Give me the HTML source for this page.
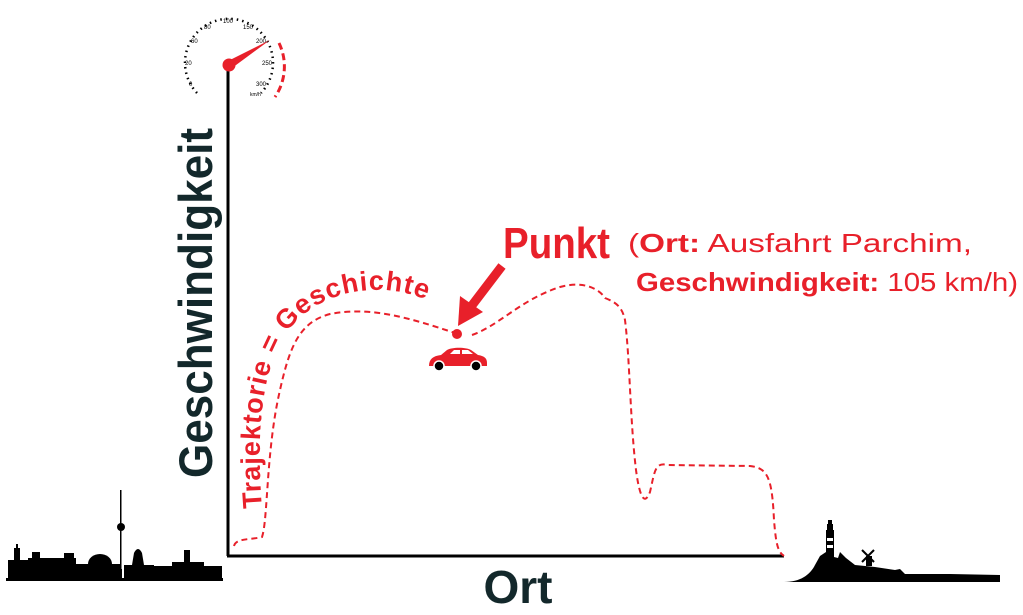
<!DOCTYPE html>
<html><head><meta charset="utf-8"><style>
html,body{margin:0;padding:0;background:#fff;}
svg{display:block;font-family:"Liberation Sans",sans-serif;}
</style></head><body>
<svg width="1023" height="615" viewBox="0 0 1023 615" xmlns="http://www.w3.org/2000/svg">
<!-- axes -->
<line x1="228" y1="65" x2="228" y2="556" stroke="#000" stroke-width="3"/>
<line x1="227" y1="556" x2="784" y2="556" stroke="#000" stroke-width="3"/>
<!-- speedometer -->
<g transform="translate(229,65)">
  <path d="M -32 28 A 44 44 0 1 1 32 28" fill="none" stroke="#000" stroke-width="2.5" stroke-dasharray="1.5 4"/>
  <path d="M 50 -22 A 54 54 0 0 1 46 32" fill="none" stroke="#e8202a" stroke-width="3" stroke-dasharray="7 4"/>
  <g font-size="6" fill="#000">
    <text x="-40" y="21">0</text>
    <text x="-44" y="0">20</text>
    <text x="-38" y="-22">60</text>
    <text x="-25" y="-36">80</text>
    <text x="-6" y="-42">100</text>
    <text x="14" y="-36">150</text>
    <text x="27" y="-22">200</text>
    <text x="33" y="0">250</text>
    <text x="27" y="21">300</text>
    <text x="21" y="31" font-size="5">km/h</text>
  </g>
  <polygon points="-3,-3 3,3 41,-25" fill="#e8202a"/>
  <circle cx="0" cy="0" r="6.5" fill="#e8202a"/>
</g>
<!-- trajectory -->
<path d="M234,546 C236,538 250,540 262,537 C268,520 266,450 280,390 C290,345 300,322 330,314 C370,306 410,318 455,333 M472,335 C500,325 520,300 560,287 C585,280 600,290 605,298 C615,302 622,306 625,320 C630,360 630,420 636,470 C640,500 645,505 650,492 C655,470 655,462 668,465 L750,466 C768,468 772,478 774,520 C776,545 778,552 784,556" fill="none" stroke="#e8202a" stroke-width="2" stroke-dasharray="6 4"/>
<path id="lbl" d="M262,508 C256,430 262,375 283,338 C305,303 345,288 385,290 C410,292 425,298 445,310" fill="none"/>
<text font-size="27" font-weight="bold" fill="#e8202a" letter-spacing="1"><textPath href="#lbl" textLength="335" lengthAdjust="spacing">Trajektorie = Geschichte</textPath></text>
<circle cx="457" cy="334" r="5" fill="#e8202a"/>
<!-- arrow -->
<line x1="502" y1="266" x2="470" y2="308" stroke="#e8202a" stroke-width="9"/>
<polygon points="458,326 460,296 483,312" fill="#e8202a"/>
<!-- car -->
<g fill="#e8202a">
  <path d="M429,366 C429,359 433,356 441,355 L447,350 C452,347 466,347 471,350 L478,355 C484,356 487,358 487,363 L487,366 Z"/>
  <circle cx="439" cy="366" r="5" fill="#000" stroke="#fff" stroke-width="1.5"/>
  <circle cx="476" cy="366" r="5" fill="#000" stroke="#fff" stroke-width="1.5"/>
  <path d="M450,354 L454,350 L460,350 L460,354 Z M462,350 L468,350 L473,354 L462,354 Z" fill="#fff"/>
</g>
<!-- Punkt text -->
<text x="503" y="258" font-size="44" font-weight="bold" fill="#e8202a" textLength="107" lengthAdjust="spacingAndGlyphs">Punkt</text>
<text x="628" y="252" font-size="26" fill="#e8202a" textLength="344" lengthAdjust="spacingAndGlyphs">(<tspan font-weight="bold">Ort:</tspan> Ausfahrt Parchim,</text>
<text x="636" y="291" font-size="26" fill="#e8202a" textLength="382" lengthAdjust="spacingAndGlyphs"><tspan font-weight="bold">Geschwindigkeit:</tspan> 105 km/h)</text>
<!-- axis labels -->
<text transform="translate(212,478) rotate(-90)" font-size="47" font-weight="bold" fill="#13282b" textLength="350" lengthAdjust="spacingAndGlyphs">Geschwindigkeit</text>
<text x="518" y="603" font-size="46" font-weight="bold" fill="#13282b" text-anchor="middle">Ort</text>
<!-- Berlin skyline -->
<g fill="#000">
  <rect x="6" y="578" width="217" height="3"/>
  <rect x="8" y="560" width="20" height="20"/><rect x="14" y="548" width="6" height="14"/><rect x="16" y="544" width="2" height="5"/>
  <rect x="28" y="558" width="48" height="22"/><rect x="32" y="552" width="8" height="8"/><rect x="64" y="553" width="10" height="7"/>
  <rect x="76" y="564" width="44" height="16"/><path d="M88,564 A12 10 0 0 1 112,564 Z"/>
  <rect x="119" y="569" width="3" height="11"/><rect x="120" y="490" width="1.5" height="80"/><circle cx="121" cy="527" r="4"/>
  <rect x="124" y="565" width="30" height="15"/><path d="M132,565 L134,553 Q138,545 142,553 L144,565 Z"/>
  <rect x="154" y="566" width="18" height="14"/>
  <rect x="172" y="562" width="32" height="18"/><rect x="184" y="550" width="6" height="13"/>
  <rect x="204" y="566" width="18" height="14"/>
</g>
<!-- coast skyline -->
<g fill="#000">
  <path d="M784,582 C800,582 810,575 815,565 L820,556 L826,552 L830,556 L838,558 L840,552 L846,558 L855,565 L875,567 L895,570 L900,569 L905,574 L950,574 L1000,575 L1000,582 Z"/>
  <rect x="826" y="530" width="8" height="30"/><rect x="827" y="524" width="6" height="6"/><rect x="828" y="520" width="4" height="4"/>
  <line x1="862" y1="550" x2="874" y2="562" stroke="#000" stroke-width="2"/><line x1="874" y1="550" x2="862" y2="562" stroke="#000" stroke-width="2"/>
  <rect x="866" y="556" width="6" height="10"/>
</g>
<g fill="#fff"><rect x="827" y="538" width="6" height="3"/><rect x="827" y="545" width="6" height="3"/></g>
</svg>
</body></html>
